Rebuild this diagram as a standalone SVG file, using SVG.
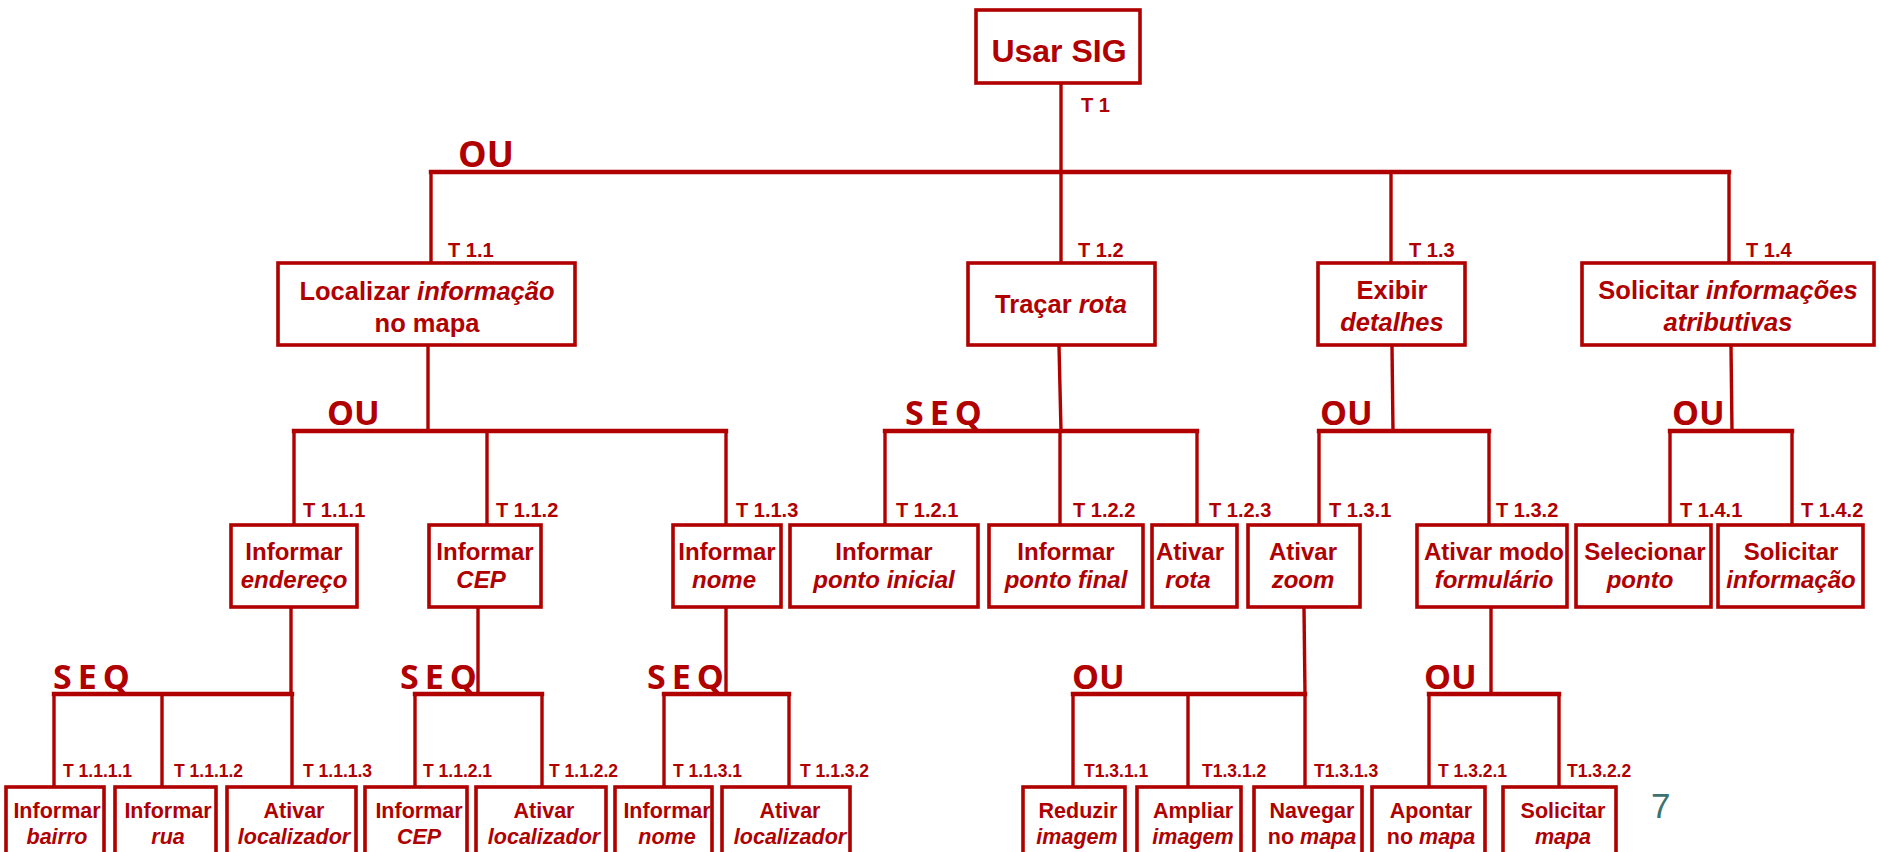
<svg xmlns="http://www.w3.org/2000/svg" width="1879" height="852" viewBox="0 0 1879 852">
<style>
.box{fill:#fff;stroke:#b00000;stroke-width:3.6}
.ln{fill:none;stroke:#b00000;stroke-width:3.4;stroke-linecap:square}
.bar{fill:none;stroke:#b00000;stroke-width:4.4;stroke-linecap:square}
text{font-family:"Liberation Sans",Arial,sans-serif;font-weight:bold;fill:#b00000}
.t0{font-size:32px;text-anchor:middle}
.t1{font-size:25.5px;text-anchor:middle}
.t2{font-size:24px;text-anchor:middle}
.t3{font-size:21.5px;text-anchor:middle}
.l1{font-size:20px}
.l3{font-size:17.5px}
.op{font-family:"Open Sans","DejaVu Sans",sans-serif;font-weight:bold;font-size:34px}
.seq{letter-spacing:6px}
.i{font-style:italic}
</style>
<rect width="1879" height="852" fill="#fff"/>
<g id="connectors">
<line class="ln" x1="1061" y1="84" x2="1061" y2="172"/>
<line class="bar" x1="431" y1="172" x2="1729" y2="172"/>
<line class="ln" x1="431" y1="172" x2="431" y2="262"/>
<line class="ln" x1="1061" y1="172" x2="1061" y2="262"/>
<line class="ln" x1="1391" y1="172" x2="1391" y2="262"/>
<line class="ln" x1="1729" y1="172" x2="1729" y2="262"/>
<line class="ln" x1="428" y1="346" x2="428" y2="431"/>
<line class="bar" x1="294" y1="431" x2="726" y2="431"/>
<line class="ln" x1="294" y1="431" x2="294" y2="524"/>
<line class="ln" x1="487" y1="433" x2="487" y2="524"/>
<line class="ln" x1="726" y1="431" x2="726" y2="524"/>
<line class="ln" x1="1059" y1="346" x2="1061" y2="431"/>
<line class="bar" x1="885" y1="431" x2="1197" y2="431"/>
<line class="ln" x1="885" y1="431" x2="885" y2="524"/>
<line class="ln" x1="1060" y1="431" x2="1060" y2="524"/>
<line class="ln" x1="1197" y1="431" x2="1197" y2="524"/>
<line class="ln" x1="1392" y1="346" x2="1393" y2="431"/>
<line class="bar" x1="1319" y1="431" x2="1489" y2="431"/>
<line class="ln" x1="1319" y1="431" x2="1319" y2="524"/>
<line class="ln" x1="1489" y1="431" x2="1489" y2="524"/>
<line class="ln" x1="1731" y1="346" x2="1732" y2="431"/>
<line class="bar" x1="1670" y1="431" x2="1792" y2="431"/>
<line class="ln" x1="1670" y1="431" x2="1670" y2="524"/>
<line class="ln" x1="1792" y1="431" x2="1792" y2="524"/>
<line class="ln" x1="291" y1="608" x2="291" y2="694"/>
<line class="bar" x1="54" y1="694" x2="292" y2="694"/>
<line class="ln" x1="54" y1="694" x2="54" y2="786"/>
<line class="ln" x1="162" y1="694" x2="162" y2="786"/>
<line class="ln" x1="292" y1="694" x2="292" y2="786"/>
<line class="ln" x1="478" y1="608" x2="478" y2="694"/>
<line class="bar" x1="415" y1="694" x2="542" y2="694"/>
<line class="ln" x1="415" y1="694" x2="415" y2="786"/>
<line class="ln" x1="542" y1="694" x2="542" y2="786"/>
<line class="ln" x1="726" y1="608" x2="726" y2="694"/>
<line class="bar" x1="664" y1="694" x2="789" y2="694"/>
<line class="ln" x1="664" y1="694" x2="664" y2="786"/>
<line class="ln" x1="789" y1="694" x2="789" y2="786"/>
<line class="ln" x1="1304" y1="608" x2="1305" y2="694"/>
<line class="bar" x1="1073" y1="694" x2="1305" y2="694"/>
<line class="ln" x1="1073" y1="694" x2="1073" y2="786"/>
<line class="ln" x1="1188" y1="694" x2="1188" y2="786"/>
<line class="ln" x1="1305" y1="694" x2="1305" y2="786"/>
<line class="ln" x1="1491" y1="608" x2="1491" y2="694"/>
<line class="bar" x1="1429" y1="694" x2="1559" y2="694"/>
<line class="ln" x1="1429" y1="694" x2="1429" y2="786"/>
<line class="ln" x1="1559" y1="694" x2="1559" y2="786"/>
</g>
<g id="labels">
<text class="op" x="458" y="167" style="font-size:36px">OU</text>
<text class="op" x="327" y="425">OU</text>
<text class="op seq" x="905" y="425">SEQ</text>
<text class="op" x="1320" y="425">OU</text>
<text class="op" x="1672" y="425">OU</text>
<text class="op seq" x="53" y="689">SEQ</text>
<text class="op seq" x="400" y="689">SEQ</text>
<text class="op seq" x="647" y="689">SEQ</text>
<text class="op" x="1072" y="689">OU</text>
<text class="op" x="1424" y="689">OU</text>
<text class="l1" x="1081" y="112">T 1</text>
<text class="l1" x="448" y="257">T 1.1</text>
<text class="l1" x="1078" y="257">T 1.2</text>
<text class="l1" x="1409" y="257">T 1.3</text>
<text class="l1" x="1746" y="257">T 1.4</text>
<text class="l1" x="303" y="517">T 1.1.1</text>
<text class="l1" x="496" y="517">T 1.1.2</text>
<text class="l1" x="736" y="517">T 1.1.3</text>
<text class="l1" x="896" y="517">T 1.2.1</text>
<text class="l1" x="1073" y="517">T 1.2.2</text>
<text class="l1" x="1209" y="517">T 1.2.3</text>
<text class="l1" x="1329" y="517">T 1.3.1</text>
<text class="l1" x="1496" y="517">T 1.3.2</text>
<text class="l1" x="1680" y="517">T 1.4.1</text>
<text class="l1" x="1801" y="517">T 1.4.2</text>
<text class="l3" x="63" y="777">T 1.1.1.1</text>
<text class="l3" x="174" y="777">T 1.1.1.2</text>
<text class="l3" x="303" y="777">T 1.1.1.3</text>
<text class="l3" x="423" y="777">T 1.1.2.1</text>
<text class="l3" x="549" y="777">T 1.1.2.2</text>
<text class="l3" x="673" y="777">T 1.1.3.1</text>
<text class="l3" x="800" y="777">T 1.1.3.2</text>
<text class="l3" x="1084" y="777">T1.3.1.1</text>
<text class="l3" x="1202" y="777">T1.3.1.2</text>
<text class="l3" x="1314" y="777">T1.3.1.3</text>
<text class="l3" x="1438" y="777">T 1.3.2.1</text>
<text class="l3" x="1567" y="777">T1.3.2.2</text>
<text x="1651" y="818" style="font-family:'Liberation Sans',Arial,sans-serif;font-weight:normal;font-size:35px;fill:#3d7272">7</text>
</g>
<g id="n-T1"><rect class="box" x="976" y="10" width="164" height="73"/><text class="t0" x="1059" y="62">Usar SIG</text></g>
<g id="n-T1.1"><rect class="box" x="278" y="263" width="297" height="82"/><text class="t1" x="427" y="300">Localizar <tspan class="i">informação</tspan></text><text class="t1" x="427" y="332">no mapa</text></g>
<g id="n-T1.2"><rect class="box" x="968" y="263" width="187" height="82"/><text class="t1" x="1061" y="313">Traçar <tspan class="i">rota</tspan></text></g>
<g id="n-T1.3"><rect class="box" x="1318" y="263" width="147" height="82"/><text class="t1" x="1392" y="299">Exibir</text><text class="t1 i" x="1392" y="331">detalhes</text></g>
<g id="n-T1.4"><rect class="box" x="1582" y="263" width="292" height="82"/><text class="t1" x="1728" y="299">Solicitar <tspan class="i">informações</tspan></text><text class="t1 i" x="1728" y="331">atributivas</text></g>
<g id="n-T1.1.1"><rect class="box" x="231" y="525" width="126" height="82"/><text class="t2" x="294" y="560">Informar</text><text class="t2 i" x="294" y="588">endereço</text></g>
<g id="n-T1.1.2"><rect class="box" x="429" y="525" width="112" height="82"/><text class="t2" x="485" y="560">Informar</text><text class="t2 i" x="481" y="588">CEP</text></g>
<g id="n-T1.1.3"><rect class="box" x="673" y="525" width="108" height="82"/><text class="t2" x="727" y="560">Informar</text><text class="t2 i" x="724" y="588">nome</text></g>
<g id="n-T1.2.1"><rect class="box" x="790" y="525" width="188" height="82"/><text class="t2" x="884" y="560">Informar</text><text class="t2 i" x="884" y="588">ponto inicial</text></g>
<g id="n-T1.2.2"><rect class="box" x="989" y="525" width="154" height="82"/><text class="t2" x="1066" y="560">Informar</text><text class="t2 i" x="1066" y="588">ponto final</text></g>
<g id="n-T1.2.3"><rect class="box" x="1152" y="525" width="85" height="82"/><text class="t2" x="1190" y="560">Ativar</text><text class="t2 i" x="1188" y="588">rota</text></g>
<g id="n-T1.3.1"><rect class="box" x="1248" y="525" width="112" height="82"/><text class="t2" x="1303" y="560">Ativar</text><text class="t2 i" x="1303" y="588">zoom</text></g>
<g id="n-T1.3.2"><rect class="box" x="1417" y="525" width="150" height="82"/><text class="t2" x="1494" y="560">Ativar modo</text><text class="t2 i" x="1494" y="588">formulário</text></g>
<g id="n-T1.4.1"><rect class="box" x="1576" y="525" width="135" height="82"/><text class="t2" x="1645" y="560">Selecionar</text><text class="t2 i" x="1640" y="588">ponto</text></g>
<g id="n-T1.4.2"><rect class="box" x="1718" y="525" width="145" height="82"/><text class="t2" x="1791" y="560">Solicitar</text><text class="t2 i" x="1791" y="588">informação</text></g>
<g id="n-T1.1.1.1"><rect class="box" x="6" y="787" width="98" height="90"/><text class="t3" x="57" y="818">Informar</text><text class="t3 i" x="57" y="844">bairro</text></g>
<g id="n-T1.1.1.2"><rect class="box" x="115" y="787" width="101" height="90"/><text class="t3" x="168" y="818">Informar</text><text class="t3 i" x="168" y="844">rua</text></g>
<g id="n-T1.1.1.3"><rect class="box" x="227" y="787" width="129" height="90"/><text class="t3" x="294" y="818">Ativar</text><text class="t3 i" x="294" y="844">localizador</text></g>
<g id="n-T1.1.2.1"><rect class="box" x="365" y="787" width="102" height="90"/><text class="t3" x="419" y="818">Informar</text><text class="t3 i" x="419" y="844">CEP</text></g>
<g id="n-T1.1.2.2"><rect class="box" x="476" y="787" width="130" height="90"/><text class="t3" x="544" y="818">Ativar</text><text class="t3 i" x="544" y="844">localizador</text></g>
<g id="n-T1.1.3.1"><rect class="box" x="615" y="787" width="97" height="90"/><text class="t3" x="667" y="818">Informar</text><text class="t3 i" x="667" y="844">nome</text></g>
<g id="n-T1.1.3.2"><rect class="box" x="722" y="787" width="128" height="90"/><text class="t3" x="790" y="818">Ativar</text><text class="t3 i" x="790" y="844">localizador</text></g>
<g id="n-T1.3.1.1"><rect class="box" x="1023" y="787" width="102" height="90"/><text class="t3" x="1078" y="818">Reduzir</text><text class="t3 i" x="1077" y="844">imagem</text></g>
<g id="n-T1.3.1.2"><rect class="box" x="1137" y="787" width="104" height="90"/><text class="t3" x="1193" y="818">Ampliar</text><text class="t3 i" x="1193" y="844">imagem</text></g>
<g id="n-T1.3.1.3"><rect class="box" x="1254" y="787" width="108" height="90"/><text class="t3" x="1312" y="818">Navegar</text><text class="t3" x="1312" y="844">no <tspan class="i">mapa</tspan></text></g>
<g id="n-T1.3.2.1"><rect class="box" x="1372" y="787" width="113" height="90"/><text class="t3" x="1431" y="818">Apontar</text><text class="t3" x="1431" y="844">no <tspan class="i">mapa</tspan></text></g>
<g id="n-T1.3.2.2"><rect class="box" x="1503" y="787" width="113" height="90"/><text class="t3" x="1563" y="818">Solicitar</text><text class="t3 i" x="1563" y="844">mapa</text></g>
</svg>
